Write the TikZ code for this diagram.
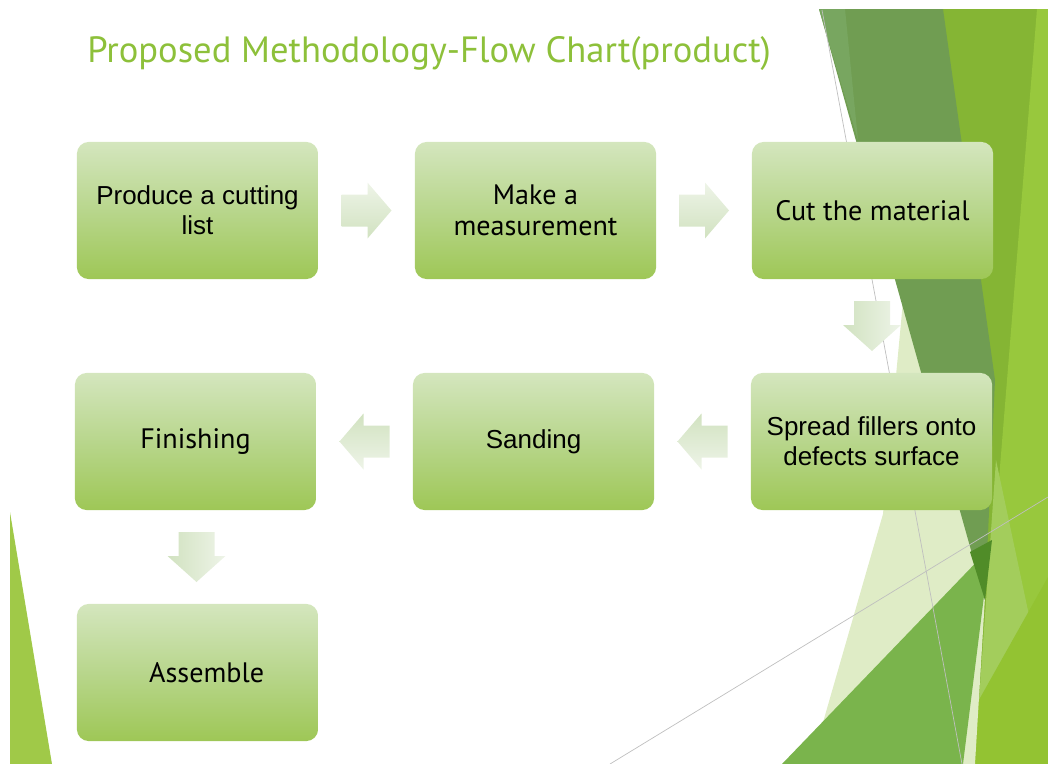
\documentclass[tikz,border=0pt]{standalone}
\usepackage{fontspec}
\setmainfont{Liberation Sans}
\newfontfamily\twfont{PT Sans}
\usetikzlibrary{calc}

\definecolor{titlegreen}{RGB}{141,192,58}
\definecolor{boxtop}{RGB}{212,230,190}
\definecolor{boxmid}{RGB}{184,214,140}
\definecolor{boxbot}{RGB}{158,199,86}
\definecolor{arrowlight}{RGB}{238,244,232}
\definecolor{arrowdark}{RGB}{209,226,192}
\definecolor{leafdark}{RGB}{112,157,82}
\definecolor{leafstrip}{RGB}{120,166,96}
\definecolor{leafdeep}{RGB}{80,140,40}
\definecolor{lime}{RGB}{133,181,52}
\definecolor{limebright}{RGB}{152,200,61}
\definecolor{limelow}{RGB}{147,195,50}
\definecolor{limepale}{RGB}{163,205,92}
\definecolor{leafpale}{RGB}{223,236,198}
\definecolor{leafmid}{RGB}{122,180,76}
\definecolor{leftlime}{RGB}{160,201,72}

\begin{document}
\begin{tikzpicture}[x=0.025cm,y=-0.025cm,
    stepbox/.style={rounded corners=0.3cm,minimum width=6.03cm,minimum height=3.43cm,
      top color=boxtop,bottom color=boxbot,middle color=boxmid,
      align=center,inner sep=0pt,font=\fontsize{18.5}{21.5}\selectfont},
    twtext/.style={font=\twfont\fontsize{20}{22.5}\selectfont},
    thinline/.style={draw=black!25,line width=0.5pt}]
  \useasboundingbox (0,0) rectangle (1048,764);

  % background facets
  \fill[lime] (943,9) -- (1048,9) -- (1048,764) -- (940,764) -- cycle;
  \fill[limebright] (1037,9) -- (1048,9) -- (1048,764) -- (976,764) -- cycle;
  \fill[limepale] (996,460) -- (1030,620) -- (978,715) -- cycle;
  \fill[limelow] (943,764) -- (1048,577) -- (1048,764) -- cycle;
  \fill[leafpale] (905,280) -- (985,597) -- (975,764) -- (811,764) -- (883,514) -- cycle;
  \fill[leafmid] (782,764) -- (990,548) -- (963,764) -- cycle;
  \fill[leafdark] (819,9) -- (943,9) -- (995,380) -- (985,600) -- cycle;
  \fill[leafstrip] (819,9) -- (845,9) -- (858,140) -- cycle;
  \fill[leafdeep] (970,552) -- (992,540) -- (985,600) -- cycle;
  \fill[leftlime] (10,512) -- (10,764) -- (52,764) -- cycle;
  \draw[thinline] (822,10) -- (962,764);
  \draw[thinline] (610,764) -- (1048,497);

  \node[anchor=base west,inner sep=0pt,text=titlegreen,font=\twfont\fontsize{26}{30}\selectfont] (title) at (87,62) {Proposed Methodology-Flow Chart(product)};

  % steps
  \node[stepbox] (cutlist) at (197.5,210.5) {Produce a cutting\\list};
  \node[stepbox,twtext] (measure) at (535.5,210.5) {Make a\\measurement};
  \node[stepbox,twtext] (cut) at (872.5,210.5) {Cut the material};
  \node[stepbox] (spread) at (871.5,441.5) {Spread fillers onto\\defects surface};
  \node[stepbox] (sanding) at (533.5,441.5) {Sanding};
  \node[stepbox,twtext] (finish) at (195.5,441.5) {Finishing};
  \node[stepbox,twtext] (assemble) at (197.5,672.5) {\hspace*{13pt}Assemble};

  % block arrows
  \foreach \a/\b in {cutlist/measure,measure/cut}
    \shade[top color=arrowlight,bottom color=arrowdark,shift={($(\a)!0.5!(\b)$)}]
      (-25,-16) -- (1,-16) -- (1,-28) -- (25,0) -- (1,28) -- (1,16) -- (-25,16) -- cycle;
  \foreach \a/\b in {spread/sanding,sanding/finish}
    \shade[top color=arrowdark,bottom color=arrowlight,shift={($(\a)!0.5!(\b)$)}]
      (25,-16) -- (-1,-16) -- (-1,-28) -- (-25,0) -- (-1,28) -- (-1,16) -- (25,16) -- cycle;
  \foreach \a/\b in {cut/spread,finish/assemble}
    \shade[left color=arrowdark,right color=arrowlight,shift={($(\a)!0.5!(\b)$)}]
      (-18,-25) -- (18,-25) -- (18,-1) -- (29,-1) -- (0,25) -- (-29,-1) -- (-18,-1) -- cycle;
\end{tikzpicture}
\end{document}
